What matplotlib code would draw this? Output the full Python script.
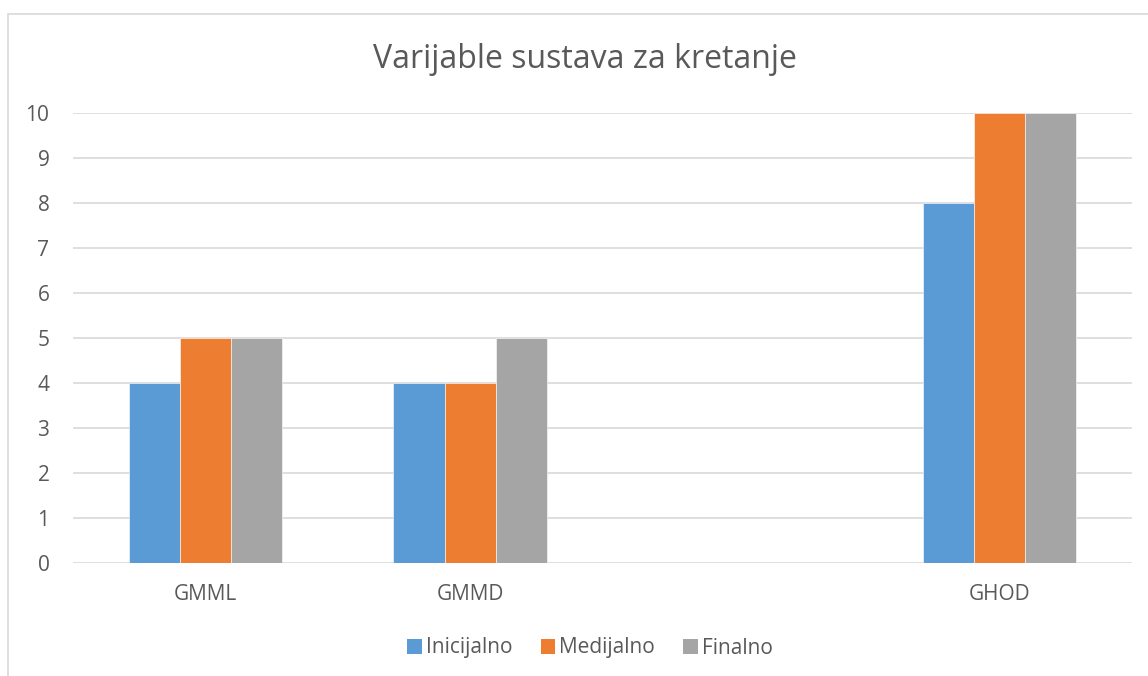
import matplotlib
matplotlib.use("Agg")
import matplotlib.pyplot as plt
import numpy as np
from matplotlib.patches import Rectangle, Patch

categories = ["GMML", "GMMD", "", "GHOD"]
inicijalno = [4, 4, np.nan, 8]
medijalno = [5, 4, np.nan, 10]
finalno = [5, 5, np.nan, 10]
series_names = ["Inicijalno", "Medijalno", "Finalno"]
colors = ["#5B9BD5", "#ED7D31", "#A5A5A5"]
yticks = list(range(0, 11))

plt.rcParams['font.family'] = ['Open Sans', 'DejaVu Sans']
W, H = 1148, 676
fig = plt.figure(figsize=(W / 100, H / 100), dpi=100)
fig.patch.set_facecolor("white")

# chart border
fig.patches.append(Rectangle((8 / W, -0.05), 1.2, 1 - 14 / H + 0.05, transform=fig.transFigure,
                             fill=False, edgecolor="#d9d9d9", linewidth=1.2))

ax = fig.add_axes([73 / W, 1 - 563 / H, (1132 - 73) / W, (563 - 113) / H])
x = np.arange(len(categories))
bw = 0.193
for i, (vals, c, name) in enumerate(zip([inicijalno, medijalno, finalno], colors, series_names)):
    ax.bar(x + (i - 1) * bw, vals, width=bw, color=c, label=name, zorder=3,
           edgecolor="white", linewidth=0.4)

ax.set_xlim(-0.5, len(categories) - 0.5)
ax.set_ylim(0, 10)
ax.set_yticks(yticks)
ax.set_xticks(x)
ax.set_xticklabels(categories)
for s in ax.spines.values():
    s.set_visible(False)
ax.grid(axis="y", color="#d9d9d9", linewidth=1.2, zorder=0)
ax.tick_params(axis="both", length=0, labelsize=15, colors="#595959")
ax.tick_params(axis="y", pad=17)
ax.tick_params(axis="x", pad=15)

fig.text(585 / W, 1 - 60 / H, "Varijable sustava za kretanje", ha="center", va="center",
         fontsize=23, color="#595959")

handles = [Patch(facecolor=c, edgecolor="none") for c in colors]
fig.legend(handles, series_names, loc="center", bbox_to_anchor=(590 / W, 1 - 648 / H),
           ncol=3, frameon=False, fontsize=15, labelcolor="#595959",
           handlelength=0.7, handleheight=0.7, handletextpad=0.2, columnspacing=1.35)

fig.savefig("out.png", dpi=100, facecolor="white")
